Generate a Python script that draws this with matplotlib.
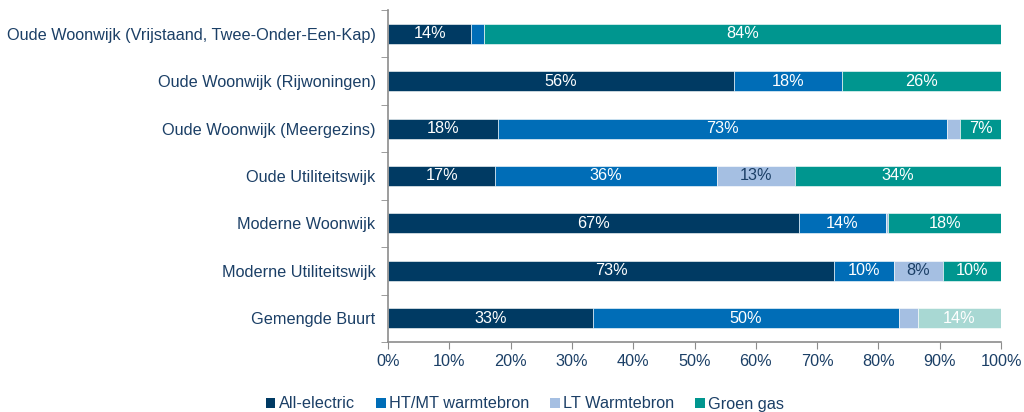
import matplotlib
matplotlib.use("Agg")
import matplotlib.pyplot as plt
from matplotlib.patches import Patch
import numpy as np

categories = [
    "Oude Woonwijk (Vrijstaand, Twee-Onder-Een-Kap)",
    "Oude Woonwijk (Rijwoningen)",
    "Oude Woonwijk (Meergezins)",
    "Oude Utiliteitswijk",
    "Moderne Woonwijk",
    "Moderne Utiliteitswijk",
    "Gemengde Buurt",
]
series = ["All-electric", "HT/MT warmtebron", "LT Warmtebron", "Groen gas"]
all_electric = [13.6, 56.4, 18.0, 17.5, 67.0, 72.8, 33.4]
ht_mt = [2.0, 17.7, 73.2, 36.2, 14.2, 9.7, 50.0]
lt = [0.0, 0.0, 2.1, 12.7, 0.4, 8.0, 3.0]
groen_gas = [84.4, 25.9, 6.7, 33.6, 18.4, 9.5, 13.6]
labels = [
    ["14%", "", "", "84%"],
    ["56%", "18%", "", "26%"],
    ["18%", "73%", "", "7%"],
    ["17%", "36%", "13%", "34%"],
    ["67%", "14%", "", "18%"],
    ["73%", "10%", "8%", "10%"],
    ["33%", "50%", "", "14%"],
]
xticks = [0, 10, 20, 30, 40, 50, 60, 70, 80, 90, 100]

colors = ["#003a63", "#006db7", "#a5bfe2", "#00968f"]
label_colors = ["white", "white", "#1b3f66", "white"]
last_gas_color = "#a8d8d3"
text_color = "#1b3f66"

plt.rcParams["font.family"] = ["Liberation Sans", "DejaVu Sans"]
fs = 11.7

fig = plt.figure(figsize=(10.24, 4.12), dpi=100)
ax = fig.add_axes([388 / 1024, 1 - 342 / 412, (1001 - 388) / 1024, (342 - 10) / 412])

data = [all_electric, ht_mt, lt, groen_gas]
y = np.arange(len(categories))
left = np.zeros(len(categories))
bar_h = 0.42
for si, vals in enumerate(data):
    vals = np.array(vals)
    cols = [colors[si]] * len(categories)
    if si == 3:
        cols[-1] = last_gas_color
    ax.barh(y, vals, left=left, height=bar_h, color=cols, edgecolor="white", linewidth=0.4)
    for i, v in enumerate(vals):
        lab = labels[i][si]
        if lab:
            ax.text(left[i] + v / 2, y[i], lab, ha="center", va="center",
                    color=label_colors[si], fontsize=fs)
    left = left + vals

ax.set_xlim(0, 100)
ax.set_ylim(len(categories) - 0.5, -0.5)
ax.set_xticks(xticks)
ax.set_xticklabels([f"{t}%" for t in xticks], color=text_color, fontsize=fs)
ax.set_yticks(y)
ax.set_yticklabels(categories, color=text_color, fontsize=fs)
ax.tick_params(axis="y", which="major", length=0, pad=9)
ax.set_yticks(np.arange(-0.5, len(categories), 1), minor=True)
ax.tick_params(axis="y", which="minor", length=5, color="#8c8c8c", direction="out")
ax.tick_params(axis="x", which="major", length=5, color="#8c8c8c", direction="out", pad=4)
for s in ["top", "right"]:
    ax.spines[s].set_visible(False)
for s in ["left", "bottom"]:
    ax.spines[s].set_color("#8c8c8c")
    ax.spines[s].set_linewidth(1.2)

handles = [Patch(facecolor=c, edgecolor="none") for c in colors]
fig.legend(handles, series, loc="center", bbox_to_anchor=(525 / 1024, 1 - 404 / 412),
           ncol=4, frameon=False, fontsize=fs, labelcolor=text_color,
           handlelength=0.6, handleheight=0.6, handletextpad=0.2, columnspacing=1.3)

fig.savefig("out.png", dpi=100)
